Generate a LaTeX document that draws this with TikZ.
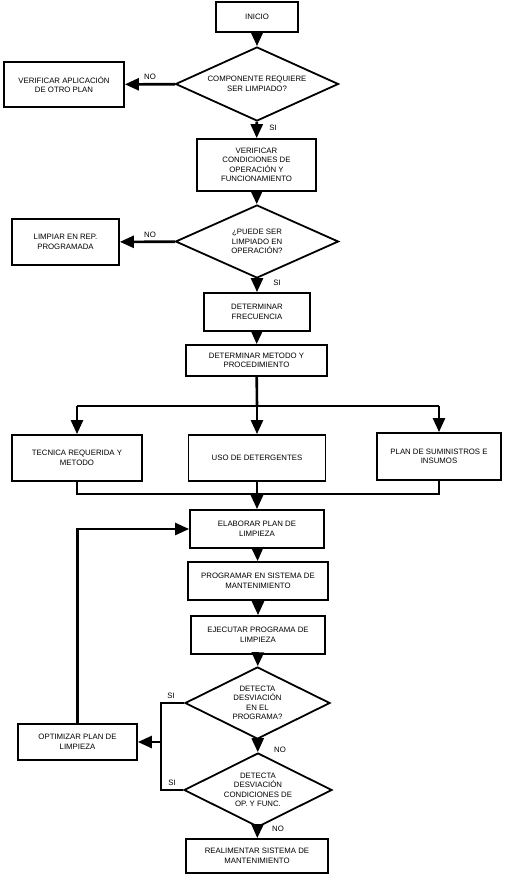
\documentclass[tikz,border=0pt]{standalone}
\usepackage{fontspec}
\setmainfont{Liberation Sans}
\usetikzlibrary{shapes.geometric,arrows.meta}
\tikzset{
  caja/.style={draw, line width=1.8pt, align=center, inner sep=1pt, font=\fontsize{7.8}{9.5}\selectfont},
  rombo/.style={diamond, draw, line width=1.8pt, align=center, inner sep=0pt, font=\fontsize{7.8}{9.5}\selectfont},
  flecha/.style={line width=2.6pt, -{Triangle[length=14pt,width=12pt]}},
  linea/.style={line width=2.6pt},
  etiq/.style={font=\fontsize{7.8}{9}\selectfont}
}
\begin{document}
\begin{tikzpicture}[x=1pt,y=-1pt]
\useasboundingbox (0,0) rectangle (504,876);
\node[caja, minimum width=82, minimum height=30] (inicio) at (257,17) {INICIO};
\node[rombo, minimum width=163, minimum height=74, aspect=2.2] (requiere) at (257,84) {COMPONENTE REQUIERE\\SER LIMPIADO?};
\node[caja, minimum width=120, minimum height=45] (otroplan) at (64,84.5) {VERIFICAR APLICACIÓN\\DE OTRO PLAN};
\node[caja, minimum width=119, minimum height=52] (condiciones) at (256.5,165) {VERIFICAR\\CONDICIONES DE\\OPERACIÓN Y\\FUNCIONAMIENTO};
\node[rombo, minimum width=163, minimum height=73, aspect=2.2] (enoperacion) at (257,241.5) {¿PUEDE SER\\LIMPIADO EN\\OPERACIÓN?};
\node[caja, minimum width=107, minimum height=46] (limpiar) at (65.5,242) {LIMPIAR EN REP.\\PROGRAMADA};
\node[caja, minimum width=106, minimum height=38] (frecuencia) at (257,312) {DETERMINAR\\FRECUENCIA};
\node[caja, minimum width=141, minimum height=31] (metodo) at (256.5,360.5) {DETERMINAR METODO Y\\PROCEDIMIENTO};
\node[caja, minimum width=130, minimum height=46] (tecnica) at (77,458) {TECNICA REQUERIDA Y\\METODO};
\node[caja, minimum width=137, minimum height=46] (detergentes) at (257,458) {USO DE DETERGENTES};
\node[caja, minimum width=124, minimum height=47] (suministros) at (439,456.5) {PLAN DE SUMINISTROS E\\INSUMOS};
\node[caja, minimum width=134, minimum height=38] (elaborar) at (257,529) {ELABORAR PLAN DE\\LIMPIEZA};
\node[caja, minimum width=140, minimum height=38] (programar) at (258,581) {PROGRAMAR EN SISTEMA DE\\MANTENIMIENTO};
\node[caja, minimum width=134, minimum height=38] (ejecutar) at (258,635) {EJECUTAR PROGRAMA DE\\LIMPIEZA};
\node[rombo, minimum width=145, minimum height=72, aspect=2] (desvprog) at (257.5,703) {DETECTA\\DESVIACIÓN\\EN EL\\PROGRAMA?};
\node[rombo, minimum width=148, minimum height=74, aspect=2] (desvcond) at (258,790) {DETECTA\\DESVIACIÓN\\CONDICIONES DE\\OP. Y FUNC.};
\node[caja, minimum width=142, minimum height=34] (realimentar) at (257,856) {REALIMENTAR SISTEMA DE\\MANTENIMIENTO};
\node[caja, minimum width=119, minimum height=36] (optimizar) at (77.5,742) {OPTIMIZAR PLAN DE\\LIMPIEZA};
\coordinate (reparto) at (257,406);
\coordinate (union) at (257,494);
\coordinate (retorno) at (161,742);
\draw[flecha] (inicio) -- (requiere);
\draw[flecha] (requiere) -- (otroplan);
\draw[flecha] (requiere) -- (condiciones);
\draw[flecha] (condiciones) -- (enoperacion);
\draw[flecha] (enoperacion) -- (limpiar);
\draw[flecha] (enoperacion) -- (frecuencia);
\draw[flecha] (frecuencia) -- (metodo);
\draw[linea] (metodo) -- (reparto);
\draw[linea] (reparto -| tecnica) -- (reparto -| suministros);
\draw[flecha] (reparto -| tecnica) -- (tecnica);
\draw[flecha] (reparto) -- (detergentes);
\draw[flecha] (reparto -| suministros) -- (suministros);
\draw[linea] (tecnica) -- (union -| tecnica) -- (union -| suministros) -- (suministros);
\draw[linea] (detergentes) -- (union);
\draw[flecha] (union) -- (elaborar);
\draw[flecha] (elaborar) -- (programar);
\draw[flecha] (programar) -- (ejecutar);
\draw[flecha] (ejecutar) -- (desvprog);
\draw[flecha] (desvprog) -- (desvcond);
\draw[flecha] (desvcond) -- (realimentar);
\draw[linea] (desvprog.west) -- (desvprog.west -| retorno) -- (desvcond.west -| retorno) -- (desvcond.west);
\draw[flecha] (retorno) -- (optimizar);
\draw[flecha] (optimizar) |- (elaborar);
\node[etiq] (no1) at (150,77) {NO};
\node[etiq] (si1) at (273,128) {SI};
\node[etiq] (no2) at (150,235) {NO};
\node[etiq] (si2) at (277,283) {SI};
\node[etiq] (si3) at (171,696) {SI};
\node[etiq] (no3) at (280,750) {NO};
\node[etiq] (si4) at (172,783) {SI};
\node[etiq] (no4) at (278,829) {NO};
\end{tikzpicture}
\end{document}
